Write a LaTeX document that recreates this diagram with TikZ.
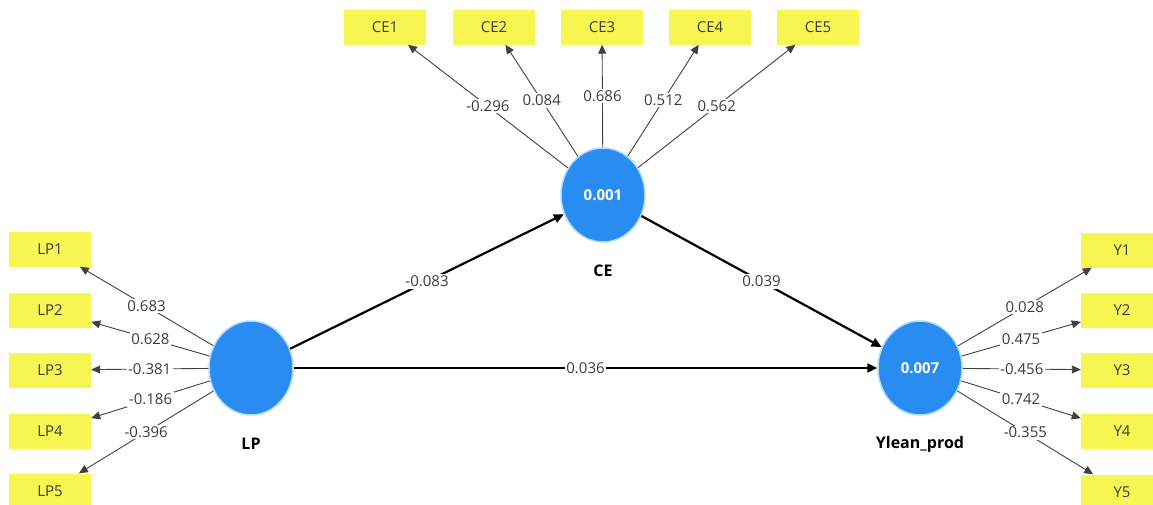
\documentclass[tikz,border=0pt]{standalone}
\usepackage{fontspec}
\setmainfont{Open Sans}
\usetikzlibrary{arrows.meta,positioning,shapes.geometric}
\definecolor{lvblue}{RGB}{40,140,240}
\definecolor{halo}{RGB}{180,218,250}
\definecolor{indyellow}{RGB}{247,245,80}
\definecolor{numgray}{RGB}{60,60,60}
\begin{document}
\begin{tikzpicture}[x=1pt, y=-1pt,
  latent/.style={ellipse, fill=lvblue, draw=halo, line width=1.5pt, minimum width=84pt, minimum height=94pt, text=white, font=\fontsize{15}{18}\selectfont\bfseries},
  indic/.style={rectangle, fill=indyellow, minimum width=82pt, minimum height=35pt, text=numgray, font=\fontsize{15}{18}\selectfont},
  lvname/.style={font=\fontsize{16}{19}\selectfont\bfseries},
  pathline/.style={-{Triangle[length=10pt,width=9pt]}, line width=2.2pt},
  loading/.style={-{Triangle[length=9pt,width=8pt]}, line width=0.9pt, draw=black!75},
  coef/.style={fill=white, inner sep=1.5pt, text=numgray, font=\fontsize{15}{18}\selectfont, midway}]
\useasboundingbox (0,0) rectangle (1153,504);

\node [latent] (ce) at (603,195) {0.001};
\node [latent] (lp) at (251,368) {};
\node [latent] (yl) at (920,368) {0.007};
\node [lvname, below=19pt of ce] (cename) {CE};
\node [lvname, below=19pt of lp] (lpname) {LP};
\node [lvname, below=17pt of yl] (ylname) {Ylean\_prod};

\node [indic] (ce1) at (385,27) {CE1};
\node [indic] (ce2) at (494,27) {CE2};
\node [indic] (ce3) at (602,27) {CE3};
\node [indic] (ce4) at (710,27) {CE4};
\node [indic] (ce5) at (818,27) {CE5};

\node [indic] (lp1) at (50,249) {LP1};
\node [indic] (lp2) at (50,310) {LP2};
\node [indic] (lp3) at (50,370) {LP3};
\node [indic] (lp4) at (50,431) {LP4};
\node [indic] (lp5) at (50,491) {LP5};

\node [indic] (y1) at (1122,250) {Y1};
\node [indic] (y2) at (1122,310) {Y2};
\node [indic] (y3) at (1122,370) {Y3};
\node [indic] (y4) at (1122,431) {Y4};
\node [indic] (y5) at (1122,492) {Y5};

\draw [loading] (ce) -- node[coef]{-0.296} (ce1);
\draw [loading] (ce) -- node[coef]{0.084} (ce2);
\draw [loading] (ce) -- node[coef]{0.686} (ce3);
\draw [loading] (ce) -- node[coef]{0.512} (ce4);
\draw [loading] (ce) -- node[coef]{0.562} (ce5);

\draw [loading] (lp) -- node[coef]{0.683} (lp1);
\draw [loading] (lp) -- node[coef]{0.628} (lp2);
\draw [loading] (lp) -- node[coef]{-0.381} (lp3);
\draw [loading] (lp) -- node[coef]{-0.186} (lp4);
\draw [loading] (lp) -- node[coef]{-0.396} (lp5);

\draw [loading] (yl) -- node[coef]{0.028} (y1);
\draw [loading] (yl) -- node[coef]{0.475} (y2);
\draw [loading] (yl) -- node[coef]{-0.456} (y3);
\draw [loading] (yl) -- node[coef]{0.742} (y4);
\draw [loading] (yl) -- node[coef]{-0.355} (y5);

\draw [pathline] (lp) -- node[coef]{-0.083} (ce);
\draw [pathline] (ce) -- node[coef]{0.039} (yl);
\draw [pathline] (lp) -- node[coef]{0.036} (yl);
\end{tikzpicture}
\end{document}
